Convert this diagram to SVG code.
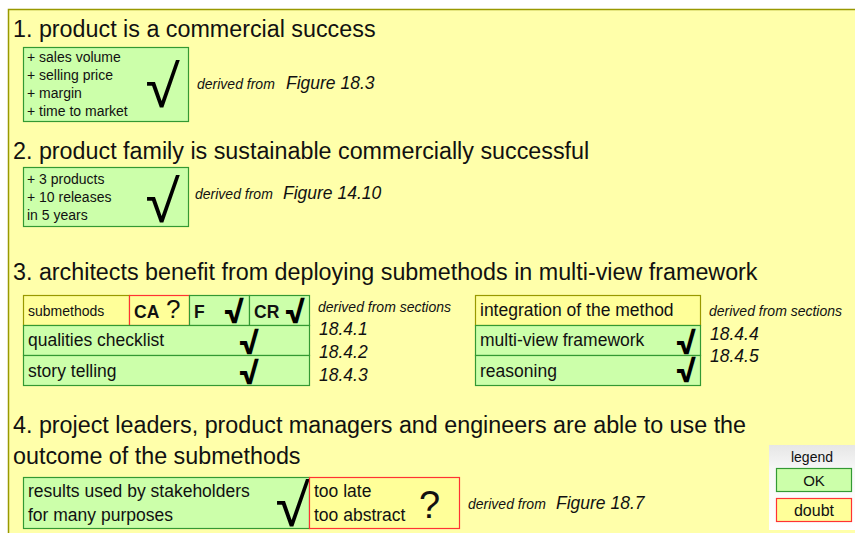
<svg xmlns="http://www.w3.org/2000/svg" width="855" height="533" viewBox="0 0 855 533">
<defs>
<linearGradient id="lg" x1="0" y1="0" x2="0" y2="1">
<stop offset="0" stop-color="#e6e6e6"/><stop offset="0.3" stop-color="#f8f8f8"/><stop offset="1" stop-color="#ffffff"/>
</linearGradient>
<style>
text{font-family:"Liberation Sans",Arial,sans-serif;fill:#111}
.h{font-size:23.3px}
.s{font-size:14px}
.m{font-size:17.5px}
.i{font-style:italic}
.b{font-weight:bold}
.ok{fill:#ccffaa;stroke:#339933;stroke-width:1.2}
.dbt{fill:#ffff99;stroke:#ff3333;stroke-width:1.2}
.nt{fill:#ffff99;stroke:#999900;stroke-width:1.2}
.ck{font-family:"Open Sans","DejaVu Sans",sans-serif;font-size:57px;fill:#000}
.cks{font-family:Roboto,"Liberation Sans",sans-serif;font-size:36px;font-weight:bold;fill:#000}
</style>
</defs>
<rect x="0" y="0" width="855" height="533" fill="#ffffff"/>
<rect x="8" y="9" width="847" height="524" fill="#ffffaa"/>
<path d="M8.5,533 V9.5 H855" fill="none" stroke="#999900" stroke-width="1.5"/>

<g id="goal1">
<text class="h" x="13" y="37">1. product is a commercial success</text>
<rect class="ok" x="23.5" y="47.5" width="165" height="74"/>
<text class="s" x="27" y="62">+ sales volume</text>
<text class="s" x="27" y="80">+ selling price</text>
<text class="s" x="27" y="98">+ margin</text>
<text class="s" x="27" y="116">+ time to market</text>
<text class="ck" x="146" y="107">√</text>
<text class="s i" x="197" y="89">derived from</text>
<text class="m i" x="286" y="89">Figure 18.3</text>
</g>

<g id="goal2">
<text class="h" x="13" y="159">2. product family is sustainable commercially successful</text>
<rect class="ok" x="23.5" y="167.5" width="165" height="59"/>
<text class="s" x="27" y="184">+ 3 products</text>
<text class="s" x="27" y="202">+ 10 releases</text>
<text class="s" x="27" y="220">in 5 years</text>
<text class="ck" x="146" y="222">√</text>
<text class="s i" x="195" y="199">derived from</text>
<text class="m i" x="283" y="199">Figure 14.10</text>
</g>

<g id="goal3">
<text class="h" x="13" y="280">3. architects benefit from deploying submethods in multi-view framework</text>
<rect class="nt" x="23.5" y="295.5" width="106" height="30"/>
<text class="s" x="28" y="316">submethods</text>
<rect class="dbt" x="129.5" y="295.5" width="60" height="30"/>
<text class="m b" x="134" y="318">CA</text>
<text x="166" y="318" style="font-size:26px">?</text>
<rect class="ok" x="189.5" y="295.5" width="60" height="30"/>
<text class="m b" x="194" y="318">F</text>
<text class="cks" x="224" y="323">√</text>
<rect class="ok" x="249.5" y="295.5" width="60" height="30"/>
<text class="m b" x="254" y="318">CR</text>
<text class="cks" x="285" y="323">√</text>
<rect class="ok" x="23.5" y="325.5" width="286" height="30"/>
<text class="m" x="28" y="346">qualities checklist</text>
<text class="cks" x="239" y="354">√</text>
<rect class="ok" x="23.5" y="355.5" width="286" height="30"/>
<text class="m" x="28" y="377">story telling</text>
<text class="cks" x="239" y="384">√</text>
<text class="s i" x="318" y="312">derived from sections</text>
<text class="m i" x="319" y="335">18.4.1</text>
<text class="m i" x="319" y="358">18.4.2</text>
<text class="m i" x="319" y="381">18.4.3</text>
</g>

<g id="goal3b">
<rect class="nt" x="475.5" y="295.5" width="225" height="30"/>
<text class="m" x="480" y="316">integration of the method</text>
<rect class="ok" x="475.5" y="325.5" width="225" height="30"/>
<text class="m" x="480" y="346">multi-view framework</text>
<text class="cks" x="676" y="354">√</text>
<rect class="ok" x="475.5" y="355.5" width="225" height="30"/>
<text class="m" x="480" y="377">reasoning</text>
<text class="cks" x="676" y="382">√</text>
<text class="s i" x="709" y="316">derived from sections</text>
<text class="m i" x="710" y="340">18.4.4</text>
<text class="m i" x="710" y="362">18.4.5</text>
</g>

<g id="goal4">
<text class="h" x="13" y="433">4. project leaders, product managers and engineers are able to use the</text>
<text class="h" x="13" y="464">outcome of the submethods</text>
<rect class="ok" x="23.5" y="477.5" width="286" height="51"/>
<text class="m" x="28" y="497">results used by stakeholders</text>
<text class="m" x="28" y="521">for many purposes</text>
<text class="ck" x="276" y="526">√</text>
<rect class="dbt" x="309.5" y="477.5" width="150" height="51"/>
<text class="m" x="314" y="497">too late</text>
<text class="m" x="314" y="521">too abstract</text>
<text x="419" y="518" style="font-size:38px">?</text>
<text class="s i" x="468" y="509">derived from</text>
<text class="m i" x="556" y="509">Figure 18.7</text>
</g>

<g id="legend">
<rect x="769" y="445" width="86" height="85" fill="url(#lg)"/>
<text class="s" x="812" y="462" text-anchor="middle">legend</text>
<rect class="ok" x="776.5" y="468.5" width="75" height="23"/>
<text x="814" y="486" text-anchor="middle" style="font-size:15px">OK</text>
<rect class="dbt" x="776.5" y="498.5" width="75" height="23"/>
<text x="814" y="516" text-anchor="middle" style="font-size:16px">doubt</text>
</g>
</svg>
